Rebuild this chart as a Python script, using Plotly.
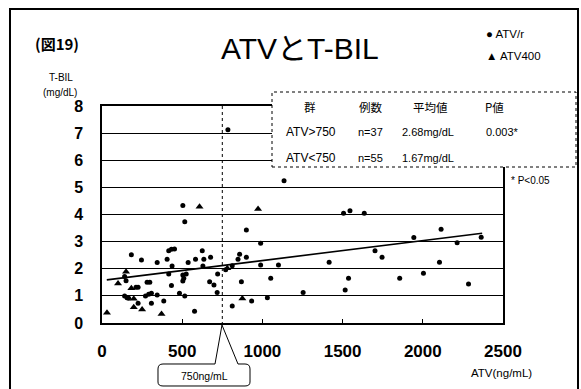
import plotly.graph_objects as go

# ---- data ----
atvr_x = [141, 156, 166, 141, 150, 183, 246, 212, 225, 225, 271, 291, 308, 344, 281,
          298, 308, 344, 385, 406, 416, 433, 452, 437, 433, 416, 483, 504, 525, 510,
          504, 504, 516, 516, 537, 577, 583, 625, 635, 677, 629, 671, 698, 721, 718,
          785, 771, 812, 812, 848, 858, 869, 900, 900, 933, 989, 989, 1031, 1052, 1100,
          1135, 1254, 1416, 1506, 1546, 1635, 1516, 1537, 1702, 1746, 1856, 1944, 2004,
          2104, 2114, 2214, 2285, 2364]
atvr_y = [1.0, 0.93, 0.91, 1.71, 1.56, 2.52, 2.32, 1.32, 1.32, 0.73, 1.0, 1.06, 1.1, 1.03, 1.5,
          1.5, 0.73, 2.23, 0.81, 2.35, 2.66, 2.72, 2.73, 2.1, 1.38, 1.81, 1.1, 1.77, 1.81, 1.65,
          1.55, 4.33, 3.73, 1.0, 2.23, 0.43, 2.35, 2.66, 2.35, 2.42, 2.1, 1.52, 1.4, 1.81, 1.12,
          7.12, 1.96, 2.11, 0.63, 2.35, 2.53, 1.52, 2.42, 3.43, 0.81, 2.94, 2.14, 0.93, 1.65, 2.14,
          5.24, 1.12, 2.24, 4.05, 4.14, 4.05, 1.22, 1.65, 2.66, 2.42, 1.65, 3.15, 1.83,
          2.24, 3.46, 2.96, 1.44, 3.16]
atv400_x = [31, 100, 150, 183, 198, 198, 250, 371, 608, 781, 875, 973]
atv400_y = [0.38, 1.46, 1.89, 1.28, 0.89, 0.58, 0.5, 0.33, 4.29, 2.02, 0.9, 4.2]
trend_x = [30, 2370]
trend_y = [1.59, 3.31]
cutoff = 750
x_ticks = [0, 500, 1000, 1500, 2000, 2500]
y_ticks = [0, 1, 2, 3, 4, 5, 6, 7, 8]
table_header = ["群", "例数", "平均値", "P値"]
table_rows = [["ATV>750", "n=37", "2.68mg/dL", "0.003*"],
              ["ATV<750", "n=55", "1.67mg/dL", ""]]

# ---- layout geometry (pixels) ----
W, H = 581, 389
L, R, T, B = 102, 503, 106, 323


def px(x):
    return (x - L) / (R - L)


def py(y):
    return (B - y) / (B - T)


LAT = "Liberation Sans, Arial, Noto Sans CJK JP"
JP = "Noto Sans CJK JP, Liberation Sans"

fig = go.Figure()
fig.add_trace(go.Scatter(x=trend_x, y=trend_y, mode="lines",
                         line=dict(color="black", width=1.6), hoverinfo="skip"))
fig.add_trace(go.Scatter(x=atvr_x, y=atvr_y, mode="markers", name="ATV/r",
                         marker=dict(symbol="circle", size=5, color="black")))
fig.add_trace(go.Scatter(x=atv400_x, y=atv400_y, mode="markers", name="ATV400",
                         marker=dict(symbol="triangle-up", size=7, color="black")))

fig.update_layout(
    width=W, height=H, showlegend=False,
    margin=dict(l=L, r=W - R, t=T, b=H - B, pad=0),
    paper_bgcolor="white", plot_bgcolor="white",
    xaxis=dict(range=[0, 2500], tickvals=x_ticks, ticks="inside", ticklen=4,
               tickcolor="black", showgrid=False, zeroline=False,
               showline=True, linecolor="black", linewidth=1.5, mirror=True,
               ticklabelstandoff=12,
               tickfont=dict(family=LAT, size=17, color="black", weight="bold")),
    yaxis=dict(range=[0, 8], tickvals=y_ticks, ticks="", showgrid=True,
               gridcolor="black", gridwidth=1.3, zeroline=False,
               showline=True, linecolor="black", linewidth=1.5, mirror=True,
               ticklabelstandoff=14,
               tickfont=dict(family=LAT, size=16, color="black", weight="bold")),
)

shapes = []
# outer frame (left, top, right)
frame = ("M " + f"{px(10):.5f},{py(389):.5f}" + " L " + f"{px(10):.5f},{py(9):.5f}" +
         " L " + f"{px(578):.5f},{py(9):.5f}" + " L " + f"{px(578):.5f},{py(389):.5f}")
shapes.append(dict(type="path", xref="paper", yref="paper", path=frame,
                   line=dict(color="black", width=2)))
# dotted cutoff line
shapes.append(dict(type="line", xref="x", yref="paper", x0=cutoff, x1=cutoff,
                   y0=py(325), y1=1, line=dict(color="black", width=1, dash="dot")))
# info table box (white, covers grid)
shapes.append(dict(type="rect", xref="paper", yref="paper", layer="above",
                   x0=px(272), x1=px(576), y0=py(167), y1=py(92),
                   fillcolor="white", line=dict(color="black", width=1, dash="dot")))


def P(x, y):
    return f"{px(x):.5f},{py(y):.5f}"


# callout bubble
path = ("M " + P(215, 364) + " L " + P(222, 325) + " L " + P(238, 364) +
        " L " + P(245, 364) + " Q " + P(250, 364) + " " + P(250, 369) +
        " L " + P(250, 382) + " Q " + P(250, 386) + " " + P(245, 386) +
        " L " + P(163, 386) + " Q " + P(158, 386) + " " + P(158, 382) +
        " L " + P(158, 369) + " Q " + P(158, 364) + " " + P(163, 364) + " Z")
shapes.append(dict(type="path", xref="paper", yref="paper", path=path,
                   fillcolor="white", line=dict(color="black", width=1)))
fig.update_layout(shapes=shapes)

ann = []


def text(x, y, s, size, family=LAT, bold=False, xanchor="center"):
    ann.append(dict(x=px(x), y=py(y), xref="paper", yref="paper", text=s,
                    showarrow=False, xanchor=xanchor, yanchor="middle",
                    font=dict(family=family, size=size, color="black",
                              weight="bold" if bold else "normal")))


text(300, 48, "ATVとT-BIL", 30, family=LAT)
text(57, 43, "(図19)", 15, family=JP, bold=True)
text(484, 34, "● ATV/r", 11.5, xanchor="left")
text(484, 56, "▲ ATV400", 11.5, xanchor="left")
text(61, 77, "T-BIL", 10)
text(60, 92, "(mg/dL)", 10)
text(501, 373, "ATV(ng/mL)", 11.5)
text(204, 376, "750ng/mL", 10.5)
text(530, 180, "* P<0.05", 10)

col_x = [310, 371, 430, 494]
for cx, h in zip(col_x, table_header):
    text(cx, 107, h, 11.5, family=JP)
row_y = [132, 158]
row_x = [311, 370, 428, 502]
row_sizes = [12, 11, 11, 11]
for ry, row in zip(row_y, table_rows):
    for cx, s, fs in zip(row_x, row, row_sizes):
        if s:
            text(cx, ry, s, fs)

fig.update_layout(annotations=ann)
fig.write_html("out.html", config={"displayModeBar": False},
               post_script="document.body.style.margin='0';document.body.style.overflow='hidden';")
